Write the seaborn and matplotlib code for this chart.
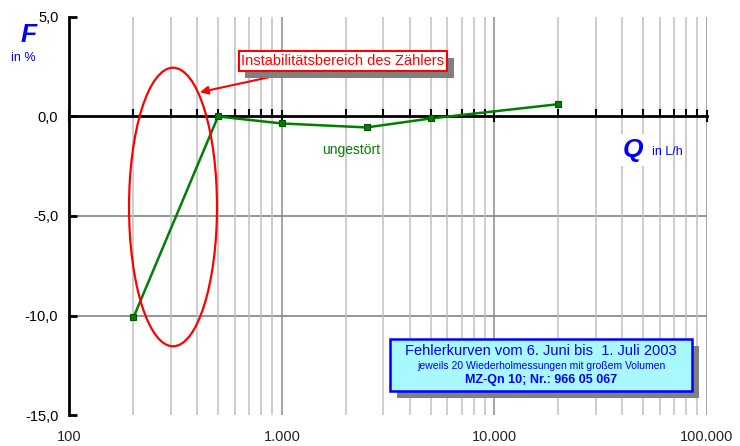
import numpy as np
import pandas as pd
import matplotlib
matplotlib.use('Agg')
import matplotlib.pyplot as plt
import matplotlib.ticker as mticker
import matplotlib.patheffects as pe
from matplotlib.patches import Ellipse, FancyBboxPatch
import seaborn as sns

# ── data ──────────────────────────────────────────────────────────────────────
flow_lh   = [200, 500, 1000, 2500, 5000, 20000]
error_pct = [-10.1, 0.0, -0.35, -0.55, -0.1, 0.62]
series    = 'ungestört'
y_ticks   = [5, 0, -5, -10, -15]
y_grid    = [-5, -10]
x_major   = [100, 1000, 10000, 100000]

title_lines = ['Fehlerkurven vom 6. Juni bis  1. Juli 2003',
               'jeweils 20 Wiederholmessungen mit großem Volumen',
               'MZ-Qn 10; Nr.: 966 05 067']
note_text = 'Instabilitätsbereich des Zählers'

df = pd.DataFrame({'Q': flow_lh, 'F': error_pct})

sns.set_style('white')
plt.rcParams['font.family'] = ['Liberation Sans', 'DejaVu Sans']

fig = plt.figure(figsize=(7.4, 4.46), dpi=100)
ax = fig.add_axes([0.0939, 0.0695, 0.8615, 0.8924])

ax.set_xscale('log')
ax.set_xlim(100, 100000)
ax.set_ylim(-15, 5)

# grid
ax.xaxis.set_major_locator(mticker.FixedLocator(x_major))
ax.xaxis.set_minor_locator(mticker.LogLocator(base=10, subs=np.arange(2, 10)))
ax.grid(which='minor', axis='x', color='#c0c0c0', lw=1.1, zorder=0)
ax.grid(which='major', axis='x', color='#8c8c8c', lw=1.1, zorder=0)
for yv in y_grid:
    ax.axhline(yv, color='#8c8c8c', lw=1.3, zorder=0.5)

sns.lineplot(data=df, x='Q', y='F', ax=ax, color='#008000', lw=1.8,
             marker='s', markersize=5, markeredgecolor='#005000',
             markeredgewidth=0.8, zorder=4)

# axes look
for s in ['top', 'right']:
    ax.spines[s].set_visible(False)
ax.spines['left'].set_linewidth(2)
ax.spines['left'].set_color('black')
ax.spines['bottom'].set_position(('data', 0))
ax.spines['bottom'].set_linewidth(2)
ax.spines['bottom'].set_color('black')
ax.spines['bottom'].set_zorder(3)

ax.set_yticks(y_ticks)
ax.yaxis.set_major_formatter(mticker.FuncFormatter(lambda v, p: f'{v:.1f}'.replace('.', ',')))
ax.tick_params(axis='y', left=True, direction='in', length=6, width=2,
               labelsize=10.5, pad=8, colors='black')
ax.tick_params(axis='x', which='major', bottom=True, direction='inout', length=9,
               width=1.5, labelbottom=False, colors='black')
ax.tick_params(axis='x', which='minor', bottom=True, direction='in', length=5,
               width=1.5, labelbottom=False, colors='black')
ax.set_xlabel('')
ax.set_ylabel('')

sec = ax.secondary_xaxis(0)
sec.spines['bottom'].set_visible(False)
sec.xaxis.set_major_locator(mticker.FixedLocator(x_major))
sec.xaxis.set_minor_locator(mticker.NullLocator())
sec.xaxis.set_major_formatter(mticker.FuncFormatter(lambda v, p: f'{int(v):,}'.replace(',', '.')))
sec.tick_params(axis='x', length=0, labelsize=10.5, pad=11)

# instability ellipse
ell = Ellipse((0.1624, 0.5226), 0.138, 0.70, transform=ax.transAxes,
              fill=False, edgecolor='#ff0000', lw=1.6, zorder=5)
ax.add_patch(ell)

shadow = [pe.SimplePatchShadow(offset=(5, -5), shadow_rgbFace='#808080', alpha=1), pe.Normal()]

note = ax.annotate(note_text, xy=(411, 1.22), xytext=(1936, 2.78),
                   ha='center', va='center', fontsize=10.5, color='#ff0000',
                   bbox=dict(boxstyle='square,pad=0.2', fc='white', ec='#ff0000', lw=1.5),
                   arrowprops=dict(arrowstyle='-|>', color='#ff0000', lw=1.5,
                                   mutation_scale=12, shrinkA=0, shrinkB=0),
                   zorder=6)
note.get_bbox_patch().set_path_effects(shadow)

ax.text(2109, -1.7, series, color='#008000', fontsize=10, ha='center', va='center', zorder=6)

# info box
box = FancyBboxPatch((0.503, 0.0603), 0.474, 0.1307, transform=ax.transAxes,
                     boxstyle='square,pad=0', fc='#a8f8ff', ec='#0000ff', lw=1.8, zorder=6)
box.set_path_effects(shadow)
ax.add_patch(box)
ax.text(0.7396, 0.160, title_lines[0], transform=ax.transAxes, ha='center', va='center',
        fontsize=10.5, color='#0000ff', zorder=7)
ax.text(0.7396, 0.124, title_lines[1], transform=ax.transAxes, ha='center', va='center',
        fontsize=7.5, color='#0000ff', zorder=7)
ax.text(0.7396, 0.089, title_lines[2], transform=ax.transAxes, ha='center', va='center',
        fontsize=9, color='#0000ff', fontweight='bold', zorder=7)

# axis labels
fig.text(0.038, 0.922, 'F', fontsize=19, fontweight='bold', fontstyle='italic',
         color='#0000ff', ha='center', va='center')
fig.text(0.031, 0.870, 'in %', fontsize=9, color='#0000ff', ha='center', va='center')
fig.text(0.855, 0.664, 'Q', fontsize=19, fontweight='bold', fontstyle='italic',
         color='#0000ff', ha='center', va='center',
         bbox=dict(boxstyle='square,pad=0.15', fc='white', ec='none'), zorder=6)
fig.text(0.881, 0.660, 'in L/h', fontsize=9, color='#0000ff', ha='left', va='center')

fig.savefig('out.png', dpi=100)
